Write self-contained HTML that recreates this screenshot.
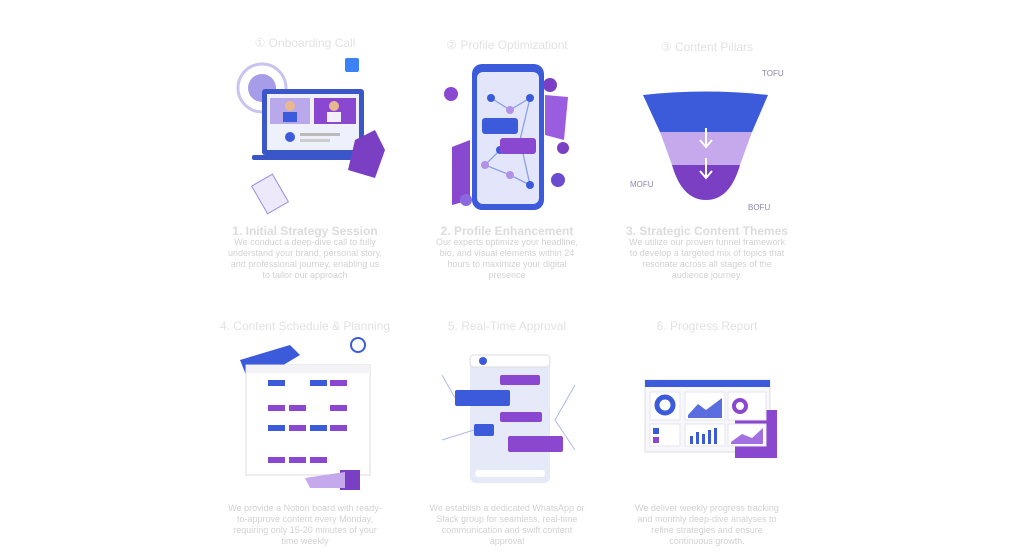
<!DOCTYPE html>
<html><head><meta charset="utf-8"><style>
html,body{margin:0;padding:0;background:#fff;width:1024px;height:559px;overflow:hidden;font-family:"Liberation Sans",sans-serif}
.t{position:absolute;width:200px;text-align:center;color:#e2e2e2;font-size:12px}
.h{position:absolute;width:200px;text-align:center;color:#dcdcdc;font-size:12px;font-weight:bold}
.d{position:absolute;width:156px;text-align:center;color:#d2d2d2;font-size:9px;line-height:11px}
svg{position:absolute;left:0;top:0}
</style></head><body>
<div class="t" style="left:205px;top:36px">① Onboarding Call</div>
<div class="t" style="left:407px;top:38px">② Profile Optimizationt</div>
<div class="t" style="left:607px;top:40px">③ Content Pillars</div>
<div class="h" style="left:205px;top:224px">1. Initial Strategy Session</div>
<div class="h" style="left:407px;top:224px">2. Profile Enhancement</div>
<div class="h" style="left:607px;top:224px">3. Strategic Content Themes</div>
<div class="d" style="left:227px;top:237px">We conduct a deep-dive call to fully understand your brand, personal story, and professional journey, enabling us to tailor our approach</div>
<div class="d" style="left:429px;top:237px">Our experts optimize your headline, bio, and visual elements within 24 hours to maximize your digital presence</div>
<div class="d" style="left:629px;top:237px">We utilize our proven funnel framework to develop a targeted mix of topics that resonate across all stages of the audience journey.</div>
<div class="t" style="left:205px;top:319px">4. Content Schedule &amp; Planning</div>
<div class="t" style="left:407px;top:319px">5. Real-Time Approval</div>
<div class="t" style="left:607px;top:319px">6. Progress Report</div>
<div class="d" style="left:227px;top:503px">We provide a Notion board with ready-to-approve content every Monday, requiring only 15-20 minutes of your time weekly</div>
<div class="d" style="left:429px;top:503px">We establish a dedicated WhatsApp or Slack group for seamless, real-time communication and swift content approval</div>
<div class="d" style="left:629px;top:503px">We deliver weekly progress tracking and monthly deep-dive analyses to refine strategies and ensure continuous growth.</div>
<svg width="1024" height="559">
<circle cx="262" cy="88" r="24" fill="none" stroke="#c9c3ef" stroke-width="3"/>
<circle cx="262" cy="88" r="14" fill="#6d5ad8" opacity=".6"/>
<rect x="262" y="89" width="102" height="66" rx="3" fill="#3a56c8"/>
<rect x="267" y="94" width="92" height="56" fill="#eef0fb"/>
<rect x="270" y="98" width="40" height="26" fill="#b9a8ea"/>
<rect x="314" y="98" width="42" height="26" fill="#8a48d0"/>
<circle cx="290" cy="106" r="5" fill="#e9b890"/><rect x="283" y="112" width="14" height="10" fill="#3b5bdb"/>
<circle cx="334" cy="106" r="5" fill="#e9b890"/><rect x="327" y="112" width="14" height="10" fill="#f2eef8"/>
<circle cx="290" cy="137" r="5" fill="#3b5bdb"/><rect x="300" y="133" width="40" height="3" fill="#bbb"/><rect x="300" y="139" width="30" height="3" fill="#ccc"/>
<rect x="252" y="155" width="124" height="5" rx="2" fill="#3a56c8"/>
<polygon points="355,140 375,130 385,150 375,178 348,170" fill="#7b3fc4"/>
<rect x="258" y="178" width="24" height="32" fill="#ede8fa" stroke="#9a8ee0" transform="rotate(-30 270 194)"/>
<rect x="345" y="58" width="14" height="14" rx="2" fill="#3b82f6"/>
<polygon points="452,147 470,140 470,200 452,205" fill="#8a48d0"/>
<polygon points="545,95 568,97 564,140 545,135" fill="#9a5de0"/>
<rect x="472" y="64" width="72" height="146" rx="10" fill="#3b5bdb"/>
<rect x="477" y="72" width="62" height="132" rx="6" fill="#e3e6fa"/>
<g stroke="#8ba0e8" stroke-width="1.3" fill="none"><path d="M491 98 L510 110 L530 98 L520 140 L500 150 L485 165 L510 175 L530 185 L520 140"/></g>
<g fill="#3b5bdb"><circle cx="491" cy="98" r="4"/><circle cx="530" cy="98" r="4"/><circle cx="500" cy="150" r="4"/><circle cx="530" cy="185" r="4"/></g>
<g fill="#b291e6"><circle cx="510" cy="110" r="4"/><circle cx="485" cy="165" r="4"/><circle cx="510" cy="175" r="4"/></g>
<rect x="482" y="118" width="36" height="16" rx="3" fill="#3b5bdb"/>
<rect x="500" y="138" width="36" height="16" rx="3" fill="#8a48d0"/>
<circle cx="451" cy="94" r="7" fill="#8a48d0"/><circle cx="550" cy="85" r="7" fill="#7b3fc4"/><circle cx="558" cy="180" r="7" fill="#6b4bd0"/><circle cx="563" cy="148" r="6" fill="#7b3fc4"/><circle cx="466" cy="200" r="6" fill="#8a6ae0"/>
<path d="M643 95 Q705 88 768 95 L752 132 L660 132 Z" fill="#3b5bdb"/>
<path d="M660 132 L752 132 L740 165 L672 165 Z" fill="#c6a8ec"/>
<path d="M672 165 L740 165 Q730 200 706 200 Q682 200 672 165 Z" fill="#7b3fc4"/>
<path d="M706 128 V146 M700 140 L706 147 L712 140 M706 158 V177 M700 171 L706 178 L712 171" stroke="#fff" stroke-width="2" fill="none"/>
<text x="762" y="76" font-size="8" fill="#8a88b0">TOFU</text><text x="630" y="187" font-size="8" fill="#8a88b0">MOFU</text><text x="748" y="210" font-size="8" fill="#8a88b0">BOFU</text>
<polygon points="240,360 290,345 300,355 250,385" fill="#3b5bdb"/>
<rect x="246" y="365" width="124" height="110" fill="#fff" stroke="#ddd"/>
<rect x="246" y="365" width="124" height="8" fill="#f3f3f7"/>
<g fill="#3b5bdb"><rect x="268" y="380" width="17" height="6"/><rect x="310" y="380" width="17" height="6"/><rect x="268" y="425" width="17" height="6"/><rect x="310" y="425" width="17" height="6"/></g>
<g fill="#8a48d0"><rect x="330" y="380" width="17" height="6"/><rect x="289" y="405" width="17" height="6"/><rect x="330" y="405" width="17" height="6"/><rect x="268" y="405" width="17" height="6"/><rect x="330" y="425" width="17" height="6"/><rect x="268" y="457" width="17" height="6"/><rect x="289" y="457" width="17" height="6"/><rect x="310" y="457" width="17" height="6"/><rect x="289" y="425" width="17" height="6"/></g>
<circle cx="358" cy="345" r="7" fill="none" stroke="#3b5bdb" stroke-width="2"/>
<rect x="340" y="470" width="20" height="20" fill="#7b3fc4"/>
<polygon points="305,478 345,472 345,488 310,488" fill="#c6a8ec"/>
<rect x="470" y="355" width="80" height="128" rx="6" fill="#e6e9f8"/>
<rect x="470" y="355" width="80" height="12" rx="4" fill="#fff" stroke="#ddd"/>
<circle cx="483" cy="361" r="4" fill="#3b5bdb"/>
<rect x="500" y="375" width="40" height="10" rx="2" fill="#8a48d0"/>
<rect x="455" y="390" width="55" height="16" rx="2" fill="#3b5bdb"/>
<rect x="500" y="412" width="42" height="10" rx="2" fill="#8a48d0"/>
<rect x="474" y="424" width="20" height="12" rx="2" fill="#3b5bdb"/>
<rect x="508" y="436" width="55" height="16" rx="2" fill="#8a48d0"/>
<rect x="475" y="470" width="70" height="7" rx="3" fill="#fff"/>
<g stroke="#b0b8e8" fill="none"><path d="M442 375 L455 398 M442 440 L474 430 M575 385 L555 420 L575 450"/></g>
<rect x="645" y="380" width="125" height="72" fill="#f7f7fc" stroke="#ddd"/>
<rect x="645" y="380" width="125" height="7" fill="#3b5bdb"/>
<rect x="735" y="410" width="42" height="48" fill="#8a48d0"/>
<rect x="650" y="392" width="30" height="28" fill="#fff" stroke="#e4e4ee"/><circle cx="665" cy="405" r="8" fill="none" stroke="#3b5bdb" stroke-width="5"/>
<rect x="685" y="392" width="40" height="28" fill="#fff" stroke="#e4e4ee"/><path d="M688 415 L698 404 L706 410 L722 398 V418 H688Z" fill="#5b6ee0"/>
<rect x="728" y="392" width="38" height="28" fill="#fff" stroke="#e4e4ee"/><circle cx="740" cy="406" r="6" fill="none" stroke="#8a48d0" stroke-width="4"/>
<rect x="650" y="424" width="30" height="22" fill="#fff" stroke="#e4e4ee"/><rect x="653" y="428" width="6" height="6" fill="#3b5bdb"/><rect x="653" y="437" width="6" height="6" fill="#8a48d0"/>
<rect x="685" y="424" width="40" height="22" fill="#fff" stroke="#e4e4ee"/><g fill="#3b5bdb"><rect x="690" y="436" width="3" height="8"/><rect x="696" y="432" width="3" height="12"/><rect x="702" y="434" width="3" height="10"/><rect x="708" y="430" width="3" height="14"/><rect x="714" y="428" width="3" height="16"/></g>
<rect x="728" y="424" width="38" height="22" fill="#fff" stroke="#e4e4ee"/><path d="M731 442 L742 434 L752 438 L763 428 V444 H731Z" fill="#a36ee0"/>
</svg>
</body></html>
